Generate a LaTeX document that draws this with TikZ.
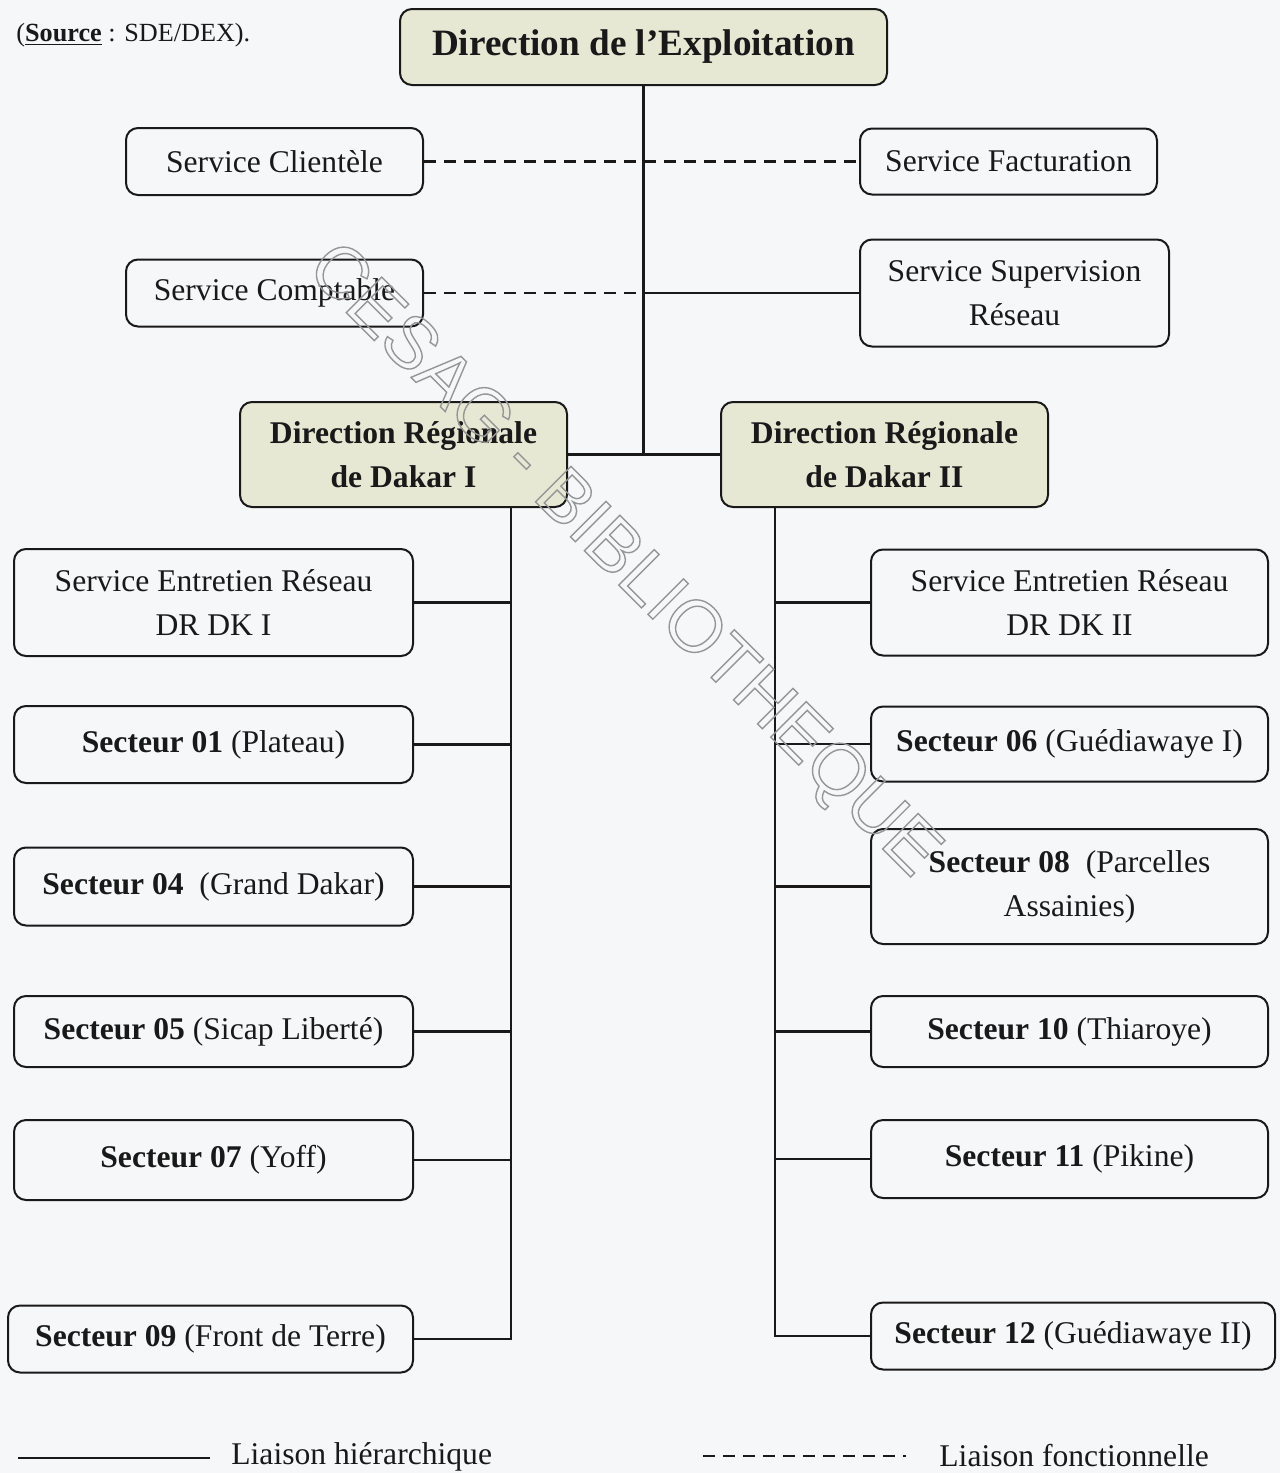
\documentclass[tikz,border=0pt]{standalone}
\usepackage{fontspec}
\setmainfont{Liberation Serif}
\newfontfamily\wmfont{Liberation Sans}
\definecolor{bg}{RGB}{246,247,249}
\definecolor{olive}{RGB}{231,232,212}
\definecolor{ink}{RGB}{25,25,25}
\definecolor{wm}{RGB}{150,150,150}

\begin{document}
\begin{tikzpicture}[x=0.5pt,y=-0.5pt,
  unitbox/.style={draw=ink, text=ink, line width=1pt, rounded corners=6pt,
    align=center, inner sep=0pt, font=\fontsize{15.8}{22}\selectfont},
  headbox/.style={unitbox, fill=olive, font=\fontsize{15.8}{22}\selectfont\bfseries},
  sz/.style 2 args={minimum width={#1*0.5pt}, minimum height={#2*0.5pt}},
  hier/.style={draw=ink, line width=1.25pt},
  func/.style={draw=ink, line width=1.3pt, dash pattern=on 6pt off 4pt},
  lbl/.style={text=ink, inner sep=0pt, font=\fontsize{15.8}{22}\selectfont},
]
\fill[bg] (0,0) rectangle (1280,1473);
\useasboundingbox (0,0) rectangle (1280,1473);

% source note
\node[lbl, anchor=west, font=\fontsize{13.1}{16}\selectfont] (src) at (16,35)
  {(\underline{\textbf{Source}} : SDE/DEX).};

% head of the organisation
\node[headbox, sz={487}{76}, font=\fontsize{18.6}{22}\selectfont\bfseries] (dex) at (643.5,47)
  {Direction de l’Exploitation};

% staff services
\node[unitbox, sz={297}{67}] (scli) at (274.5,161.5) {Service Clientèle};
\node[unitbox, sz={297}{66}] (sfac) at (1008.5,161.5) {Service Facturation};
\node[unitbox, sz={297}{67}] (scpt) at (274.5,293) {Service Comptable};
\node[unitbox, sz={309}{107}] (ssup) at (1014.5,293) {Service Supervision\\Réseau};

% regional directions
\node[headbox, sz={327}{105}] (dr1) at (403.5,454.5) {Direction Régionale\\de Dakar I};
\node[headbox, sz={327}{105}] (dr2) at (884.5,454.5) {Direction Régionale\\de Dakar II};

% Dakar I units
\node[unitbox, sz={399}{107}] (ser1) at (213.5,602.5) {Service Entretien Réseau\\DR DK I};
\node[unitbox, sz={399}{77}] (s01) at (213.5,744.5) {\textbf{Secteur 01} (Plateau)};
\node[unitbox, sz={399}{78}] (s04) at (213.5,886.5) {\textbf{Secteur 04}\ \ (Grand Dakar)};
\node[unitbox, sz={399}{71}] (s05) at (213.5,1031.5) {\textbf{Secteur 05} (Sicap Liberté)};
\node[unitbox, sz={399}{80}] (s07) at (213.5,1160) {\textbf{Secteur 07} (Yoff)};
\node[unitbox, sz={405}{67}] (s09) at (210.5,1339) {\textbf{Secteur 09} (Front de Terre)};

% Dakar II units
\node[unitbox, sz={397}{106}] (ser2) at (1069.5,602.5) {Service Entretien Réseau\\DR DK II};
\node[unitbox, sz={397}{75}] (s06) at (1069.5,744) {\textbf{Secteur 06} (Guédiawaye I)};
\node[unitbox, sz={397}{115}] (s08) at (1069.5,886.5) {\textbf{Secteur 08}\ \ (Parcelles\\Assainies)};
\node[unitbox, sz={397}{71}] (s10) at (1069.5,1031.5) {\textbf{Secteur 10} (Thiaroye)};
\node[unitbox, sz={397}{78}] (s11) at (1069.5,1159) {\textbf{Secteur 11} (Pikine)};
\node[unitbox, sz={404}{67}] (s12) at (1073,1336) {\textbf{Secteur 12} (Guédiawaye II)};

% hierarchical trunk and functional links
\draw[hier] (dex.south) -- (dex.south |- dr1.east);
\draw[hier] (dr1.east) -- (dr2.west);
\draw[func] (scli.east) -- (sfac.west);
\draw[func] (scpt.east) -- (scpt.east -| dex.south);
\draw[hier] (ssup.west) -- (ssup.west -| dex.south);

% regional buses
\coordinate (busL) at (511,0);
\coordinate (busR) at (775,0);
\draw[hier] (dr1.south -| busL) |- (s09.east);
\draw[hier] (dr2.south -| busR) |- (s12.west);
\foreach \n in {ser1,s01,s04,s05,s07}
  \draw[hier] (\n.east) -- (\n.east -| busL);
\foreach \n in {ser2,s06,s08,s10,s11}
  \draw[hier] (\n.west) -- (\n.west -| busR);

% legend
\coordinate (ls1) at (18,1458);
\coordinate (ls2) at (210,1458);
\draw[hier] (ls1) -- (ls2);
\node[lbl, anchor=west] (lsh) at (231,1457) {Liaison hiérarchique};
\coordinate (ld1) at (703,1456);
\coordinate (ld2) at (906,1456);
\draw[func] (ld1) -- (ld2);
\node[lbl, anchor=west] (lfo) at (939,1456) {Liaison fonctionnelle};

% library stamp, outlined letters
\node[rotate=-45, text=wm, inner sep=0pt, font=\wmfont\fontsize{36.5}{40}\selectfont] (stamp) at (622,562)
  {\special{pdf:literal direct 1 Tr 0.7 w}CESAG - BIBLIOTHEQUE\special{pdf:literal direct 0 Tr}};
\end{tikzpicture}
\end{document}
